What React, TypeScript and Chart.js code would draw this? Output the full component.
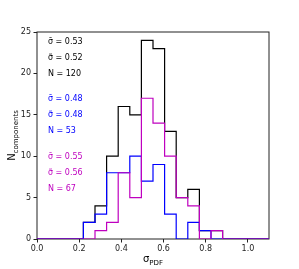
import React, { useEffect, useRef } from "react";
import { Chart, registerables } from "chart.js";

Chart.register(...registerables);

// Bin edges of the histogram (sigma_PDF)
const BIN_EDGES = [0, 0.055, 0.11, 0.165, 0.22, 0.275, 0.33, 0.385, 0.44, 0.495, 0.55, 0.605, 0.66, 0.715, 0.77, 0.825, 0.88, 0.935, 0.99, 1.045, 1.1];
// Counts per bin
const COUNTS_ALL = [0, 0, 0, 0, 2, 4, 10, 16, 15, 24, 23, 13, 5, 6, 1, 1, 0, 0, 0, 0];
const COUNTS_BLUE = [0, 0, 0, 0, 2, 3, 8, 8, 10, 7, 9, 3, 0, 2, 1, 0, 0, 0, 0, 0];
const COUNTS_MAGENTA = [0, 0, 0, 0, 0, 1, 2, 8, 5, 17, 14, 10, 5, 4, 0, 1, 0, 0, 0, 0];

const X_TICKS = [0, 0.2, 0.4, 0.6, 0.8, 1.0];
const X_TICK_LABELS = ["0.0", "0.2", "0.4", "0.6", "0.8", "1.0"];
const Y_TICKS = [0, 5, 10, 15, 20, 25];
const Y_TICK_LABELS = ["0", "5", "10", "15", "20", "25"];

const ANNOT_ALL = ["σ\u0304 = 0.53", "σ\u0303 = 0.52", "N = 120"];
const ANNOT_BLUE = ["σ\u0304 = 0.48", "σ\u0303 = 0.48", "N = 53"];
const ANNOT_MAGENTA = ["σ\u0304 = 0.55", "σ\u0303 = 0.56", "N = 67"];

const C_ALL = "#000000";
const C_BLUE = "#0000ff";
const C_MAG = "#bf00bf";
const FONT = "DejaVu Sans";

function toPoints(counts: number[]) {
  const pts = counts.map((c, i) => ({ x: BIN_EDGES[i], y: c }));
  pts.push({ x: BIN_EDGES[BIN_EDGES.length - 1], y: 0 });
  return pts;
}

const extras = {
  id: "extras",
  beforeDatasetsDraw(chart: any) {
    const { ctx, chartArea } = chart;
    ctx.save();
    ctx.strokeStyle = "#222";
    ctx.lineWidth = 1;
    ctx.strokeRect(chartArea.left, chartArea.top, chartArea.right - chartArea.left, chartArea.bottom - chartArea.top);
    ctx.restore();
  },
  afterDraw(chart: any) {
    const { ctx, chartArea } = chart;
    ctx.save();
    // annotations
    ctx.font = `8px '${FONT}'`;
    ctx.textBaseline = "middle";
    ctx.textAlign = "left";
    const x0 = chartArea.left + 11;
    const groups: [string[], string, number][] = [
      [ANNOT_ALL, C_ALL, 9.5],
      [ANNOT_BLUE, C_BLUE, 67],
      [ANNOT_MAGENTA, C_MAG, 124.5],
    ];
    groups.forEach(([lines, color, off]) => {
      ctx.fillStyle = color;
      lines.forEach((t, i) => {
        ctx.fillText(t, x0, chartArea.top + off + i * 16.2);
      });
    });

    // x-axis title: sigma_PDF
    ctx.fillStyle = "#000";
    ctx.textBaseline = "alphabetic";
    const cx = (chartArea.left + chartArea.right) / 2;
    ctx.font = `10px '${FONT}'`;
    const wMain = ctx.measureText("σ").width;
    ctx.font = `7px '${FONT}'`;
    const wSub = ctx.measureText("PDF").width;
    const startX = cx - (wMain + wSub) / 2;
    ctx.font = `10px '${FONT}'`;
    ctx.fillText("σ", startX, 262);
    ctx.font = `7px '${FONT}'`;
    ctx.fillText("PDF", startX + wMain, 264.5);

    // y-axis title: N_components
    const cy = (chartArea.top + chartArea.bottom) / 2;
    ctx.translate(15, cy);
    ctx.rotate(-Math.PI / 2);
    ctx.font = `10px '${FONT}'`;
    const wN = ctx.measureText("N").width;
    ctx.font = `7px '${FONT}'`;
    const wC = ctx.measureText("components").width;
    const sx = -(wN + wC) / 2;
    ctx.font = `10px '${FONT}'`;
    ctx.fillText("N", sx, 0);
    ctx.font = `7px '${FONT}'`;
    ctx.fillText("components", sx + wN, 2.5);
    ctx.restore();
  },
};

export default function App() {
  const ref = useRef<HTMLCanvasElement | null>(null);
  useEffect(() => {
    if (!ref.current) return;
    const chart = new Chart(ref.current, {
      type: "line",
      data: {
        datasets: [
          { label: "all", data: toPoints(COUNTS_ALL), borderColor: C_ALL, borderWidth: 1.2, stepped: true, pointRadius: 0, fill: false, order: 3 },
          { label: "blue", data: toPoints(COUNTS_BLUE), borderColor: C_BLUE, borderWidth: 1.2, stepped: true, pointRadius: 0, fill: false, order: 2 },
          { label: "magenta", data: toPoints(COUNTS_MAGENTA), borderColor: C_MAG, borderWidth: 1.2, stepped: true, pointRadius: 0, fill: false, order: 1 },
        ],
      },
      options: {
        responsive: false,
        animation: false,
        layout: { padding: { left: 0, top: 32, right: 30, bottom: 0 } },
        plugins: { legend: { display: false }, tooltip: { enabled: false } },
        scales: {
          x: {
            type: "linear",
            min: 0,
            max: 1.1,
            afterBuildTicks: (s: any) => { s.ticks = X_TICKS.map((v) => ({ value: v })); },
            afterFit: (s: any) => { s.height = 30; },
            ticks: {
              callback: (v: any) => X_TICK_LABELS[X_TICKS.indexOf(Number(v))] ?? "",
              font: { family: FONT, size: 8 },
              color: "#222",
              padding: 2,
              maxRotation: 0,
            },
            grid: { drawOnChartArea: false, drawTicks: true, tickLength: 3.5, color: "#222" },
            border: { display: false },
          },
          y: {
            type: "linear",
            min: 0,
            max: 25,
            afterBuildTicks: (s: any) => { s.ticks = Y_TICKS.map((v) => ({ value: v })); },
            afterFit: (s: any) => { s.width = 37; },
            ticks: {
              callback: (v: any) => Y_TICK_LABELS[Y_TICKS.indexOf(Number(v))] ?? "",
              font: { family: FONT, size: 8 },
              color: "#222",
              padding: 2.5,
            },
            grid: { drawOnChartArea: false, drawTicks: true, tickLength: 3.5, color: "#222" },
            border: { display: false },
          },
        },
      },
      plugins: [extras],
    });
    return () => chart.destroy();
  }, []);
  return (
    <div style={{ position: "absolute", left: 0, top: 0, width: 299, height: 269, background: "#fff" }}>
      <canvas ref={ref} width={299} height={269} style={{ display: "block", width: 299, height: 269 }} />
    </div>
  );
}
